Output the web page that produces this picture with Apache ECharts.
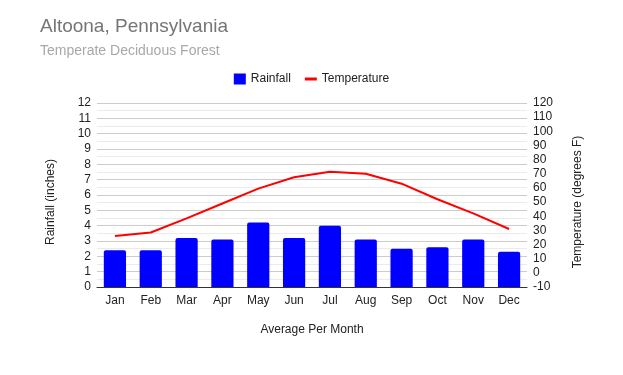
<!DOCTYPE html>
<html>
<head>
<meta charset="utf-8">
<script src="https://cdn.jsdelivr.net/npm/echarts@6/dist/echarts.min.js"></script>
<style>
  html, body { margin: 0; padding: 0; background: #fff; }
  #chart { width: 623px; height: 375px; }
</style>
</head>
<body>
<div id="chart"></div>
<script>
// 月份
const months = ['Jan', 'Feb', 'Mar', 'Apr', 'May', 'Jun', 'Jul', 'Aug', 'Sep', 'Oct', 'Nov', 'Dec']
// 降雨量 (inches)
const rainfall = [2.4, 2.4, 3.2, 3.1, 4.2, 3.2, 4.0, 3.1, 2.5, 2.6, 3.1, 2.3]
// 温度 (F)
const temperature = [26, 28.5, 38.5, 49, 59.5, 67.5, 71.5, 70, 63, 52, 42, 31]

const font = 'Liberation Sans, Arial, sans-serif'
const myChart = echarts.init(document.getElementById('chart'))
const option = {
  animation: false,
  textStyle: { fontFamily: font },
  title: {
    text: 'Altoona, Pennsylvania',
    subtext: 'Temperate Deciduous Forest',
    left: 35,
    top: 12,
    itemGap: 8,
    textStyle: { fontFamily: font, fontSize: 19, fontWeight: 'normal', color: '#757575' },
    subtextStyle: { fontFamily: font, fontSize: 14, color: '#a8a8a8' }
  },
  legend: {
    top: 68,
    left: 'center',
    itemWidth: 12,
    itemHeight: 11,
    itemGap: 14,
    textStyle: { fontFamily: font, fontSize: 12, color: '#222' },
    data: [
      { name: 'Rainfall', icon: 'rect' },
      // 细线图标（前两个 M 点撑开包围盒）
      { name: 'Temperature', icon: 'path://M0,0 M12,11 M0,4 L12,4 L12,7 L0,7 Z' }
    ]
  },
  grid: { left: 97, right: 96, top: 103, bottom: 88 },
  xAxis: {
    type: 'category',
    data: months,
    name: 'Average Per Month',
    nameLocation: 'middle',
    nameGap: 37,
    nameTextStyle: { fontFamily: font, fontSize: 12, color: '#222' },
    axisTick: { show: false },
    axisLine: { lineStyle: { color: '#333' } },
    axisLabel: { fontSize: 12, color: '#222', margin: 8 }
  },
  yAxis: [
    {
      type: 'value',
      min: 0,
      max: 12,
      interval: 1,
      name: 'Rainfall (inches)',
      nameLocation: 'middle',
      nameGap: 40,
      nameTextStyle: { fontFamily: font, fontSize: 12, color: '#222', padding: [0, 14, 0, 0] },
      axisLabel: { fontSize: 12, color: '#222', margin: 6 },
      splitLine: { lineStyle: { color: '#cccccc' } },
      minorTick: { show: false, splitNumber: 2 },
      minorSplitLine: { show: true, lineStyle: { color: '#ebebeb' } }
    },
    {
      type: 'value',
      min: -10,
      max: 120,
      interval: 10,
      name: 'Temperature (degrees F)',
      nameLocation: 'middle',
      nameGap: 45,
      nameTextStyle: { fontFamily: font, fontSize: 12, color: '#222', padding: [0, 14, 0, 0] },
      axisLabel: { fontSize: 12, color: '#222', margin: 6 },
      splitLine: { show: false }
    }
  ],
  series: [
    {
      name: 'Rainfall',
      type: 'bar',
      data: rainfall,
      barWidth: '62%',
      itemStyle: { color: '#0000ff', borderRadius: [2, 2, 0, 0] }
    },
    {
      name: 'Temperature',
      type: 'line',
      yAxisIndex: 1,
      data: temperature,
      symbol: 'none',
      lineStyle: { color: '#ff0000', width: 2 },
      itemStyle: { color: '#ff0000' }
    }
  ]
}
myChart.setOption(option)
</script>
</body>
</html>
